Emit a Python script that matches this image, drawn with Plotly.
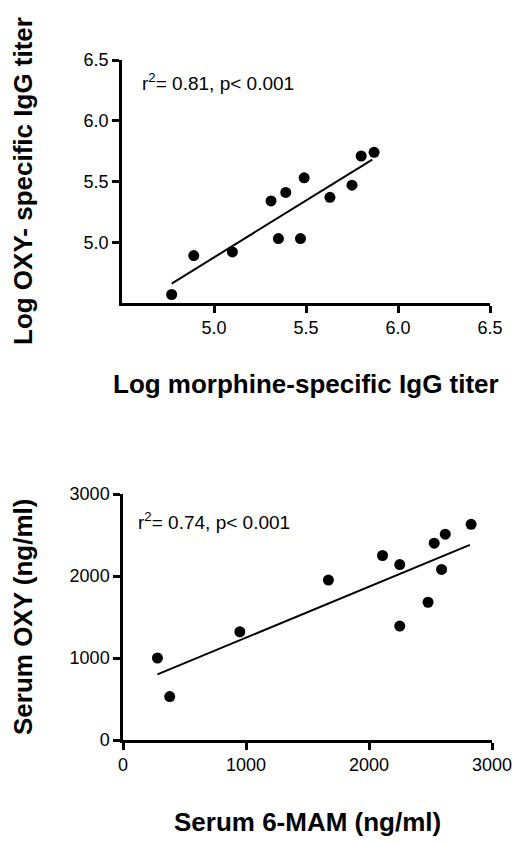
import plotly.graph_objects as go

W, H = 517, 844

# ---- Top panel data: log titers ----
morphine_titer = [4.77, 4.89, 5.10, 5.31, 5.35, 5.39, 5.47, 5.49, 5.63, 5.75, 5.80, 5.87]
oxy_titer = [4.57, 4.89, 4.92, 5.34, 5.03, 5.41, 5.03, 5.53, 5.37, 5.47, 5.71, 5.74]
fit_top_x = [4.77, 5.86]
fit_top_y = [4.66, 5.68]
top_ticks = [5.0, 5.5, 6.0, 6.5]
top_text = "r<sup>2</sup>= 0.81, p< 0.001"

# ---- Bottom panel data: serum concentrations ----
mam_serum = [280, 380, 950, 1670, 2110, 2250, 2250, 2480, 2530, 2620, 2590, 2830]
oxy_serum = [1000, 530, 1320, 1950, 2250, 2140, 1390, 1680, 2400, 2510, 2080, 2630]
fit_bot_x = [280, 2820]
fit_bot_y = [800, 2380]
bot_ticks = [0, 1000, 2000, 3000]
bot_text = "r<sup>2</sup>= 0.74, p< 0.001"

FONT = "Liberation Sans, Arial, sans-serif"

fig = go.Figure()
fig.add_trace(go.Scatter(x=fit_top_x, y=fit_top_y, mode="lines",
                         line=dict(color="black", width=2), xaxis="x", yaxis="y",
                         showlegend=False))
fig.add_trace(go.Scatter(x=morphine_titer, y=oxy_titer, mode="markers",
                         marker=dict(color="black", size=11), xaxis="x", yaxis="y",
                         showlegend=False, cliponaxis=False))
fig.add_trace(go.Scatter(x=fit_bot_x, y=fit_bot_y, mode="lines",
                         line=dict(color="black", width=2), xaxis="x2", yaxis="y2",
                         showlegend=False))
fig.add_trace(go.Scatter(x=mam_serum, y=oxy_serum, mode="markers",
                         marker=dict(color="black", size=11), xaxis="x2", yaxis="y2",
                         showlegend=False, cliponaxis=False))

ax_common = dict(showline=True, linecolor="black", linewidth=2.5, ticks="outside",
                 ticklen=7, tickwidth=2.5, tickcolor="black", showgrid=False,
                 zeroline=False, tickfont=dict(family=FONT, size=18, color="black"),
                 fixedrange=True, automargin=False)

fig.update_layout(
    width=W, height=H,
    margin=dict(l=0, r=0, t=0, b=0, autoexpand=False),
    paper_bgcolor="white", plot_bgcolor="white",
    xaxis=dict(ax_common, domain=[122 / W, 490 / W], range=[4.5, 6.5],
               tickvals=top_ticks, tickformat=".1f", anchor="y"),
    yaxis=dict(ax_common, domain=[1 - 303 / H, 1 - 60 / H], range=[4.5, 6.5],
               tickvals=top_ticks, tickformat=".1f", anchor="x"),
    xaxis2=dict(ax_common, domain=[123 / W, 492 / W], range=[0, 3000],
                tickvals=bot_ticks, anchor="y2"),
    yaxis2=dict(ax_common, domain=[1 - 740 / H, 1 - 494 / H], range=[0, 3000],
                tickvals=bot_ticks, anchor="x2"),
)

ann = []
title_font = dict(family=FONT, size=26, color="black", weight="bold")
ann.append(dict(text=top_text, x=140 / W, y=1 - 82 / H, xref="paper", yref="paper",
                xanchor="left", yanchor="middle", showarrow=False,
                font=dict(family=FONT, size=19, color="black")))
ann.append(dict(text=bot_text, x=136 / W, y=1 - 521 / H, xref="paper", yref="paper",
                xanchor="left", yanchor="middle", showarrow=False,
                font=dict(family=FONT, size=19, color="black")))
ann.append(dict(text="<b>Log OXY- specific IgG titer</b>", x=23 / W, y=1 - 181 / H,
                xref="paper", yref="paper", xanchor="center", yanchor="middle",
                textangle=-90, showarrow=False, font=title_font))
ann.append(dict(text="<b>Log morphine-specific IgG titer</b>", x=306 / W, y=1 - 384 / H,
                xref="paper", yref="paper", xanchor="center", yanchor="middle",
                showarrow=False, font=title_font))
ann.append(dict(text="<b>Serum OXY (ng/ml)</b>", x=23 / W, y=1 - 617 / H,
                xref="paper", yref="paper", xanchor="center", yanchor="middle",
                textangle=-90, showarrow=False, font=title_font))
ann.append(dict(text="<b>Serum 6-MAM (ng/ml)</b>", x=307 / W, y=1 - 822 / H,
                xref="paper", yref="paper", xanchor="center", yanchor="middle",
                showarrow=False, font=title_font))
fig.update_layout(annotations=ann)

fig.write_html("out.html", config={"displayModeBar": False},
               post_script="document.body.style.margin='0';document.body.style.padding='0';")
